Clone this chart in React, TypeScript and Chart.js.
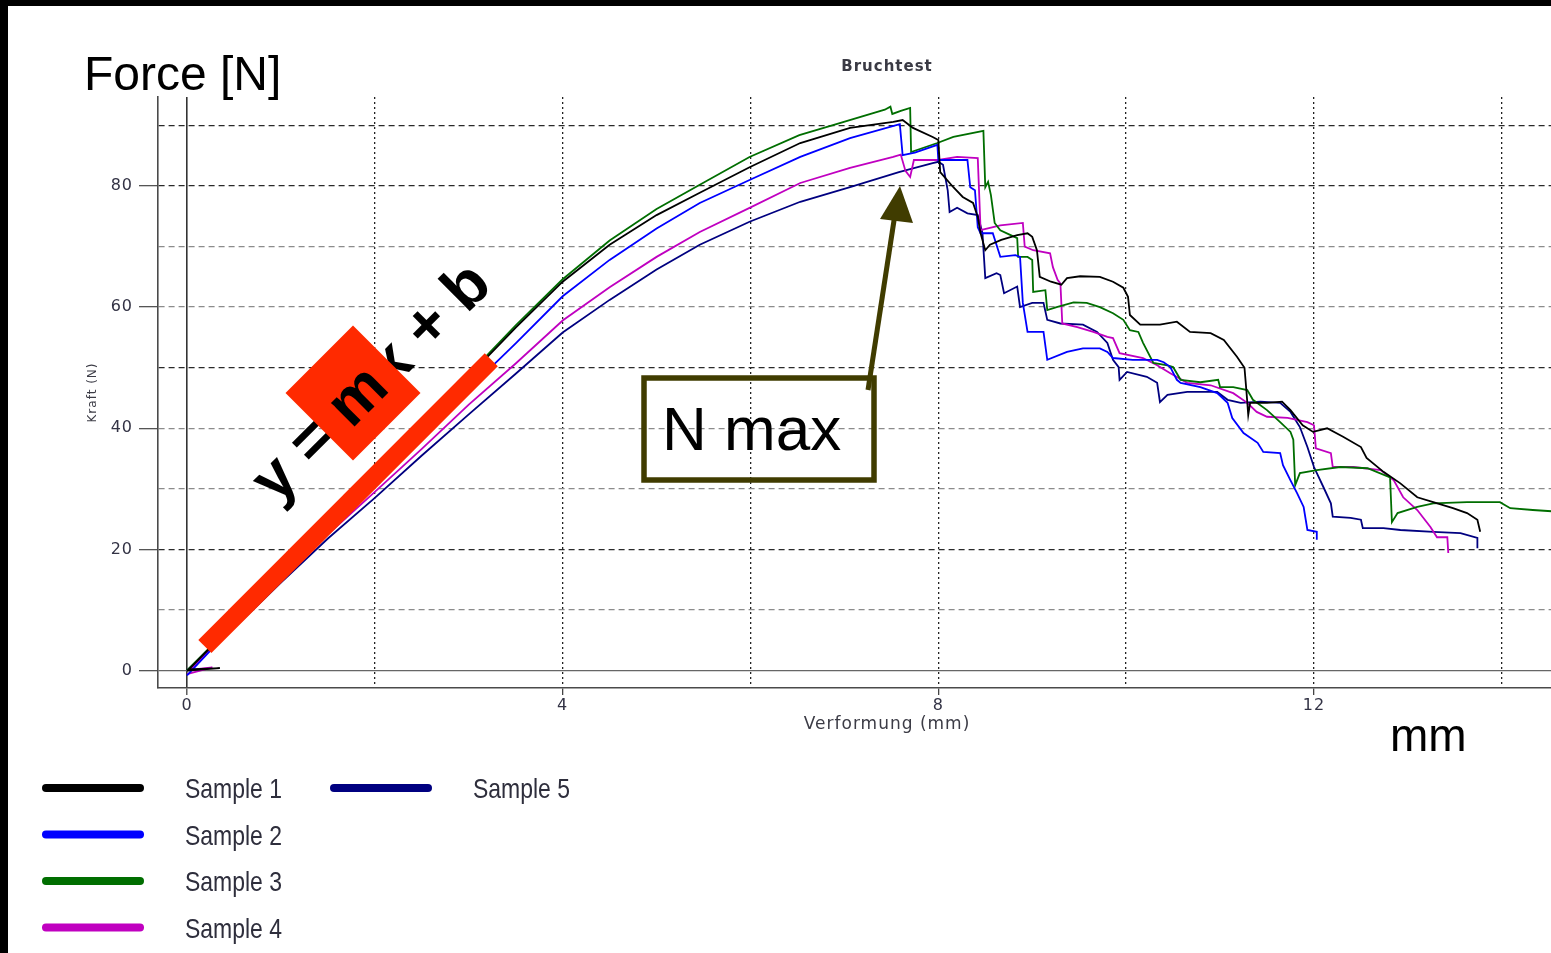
import { useEffect, useRef } from 'react';
import { Chart, registerables } from 'chart.js';

Chart.register(...registerables);

// ---------- data (x: Verformung in mm, y: Kraft in N) ----------
const sampleLabels = ['Sample 1', 'Sample 2', 'Sample 3', 'Sample 4', 'Sample 5'];

const xGridValues = [0, 2, 4, 6, 8, 10, 12, 14];
const yGridValues = [0, 10, 20, 30, 40, 50, 60, 70, 80, 90];
const xRange = [-0.309, 15.216];
const yRange = [-2.89, 94.7];

const sample1: [number, number][] = [
  [0, 0], [0.35, 0.4], [0.02, 0.2], [0.5, 7.8], [1, 16], [1.5, 24.1], [2, 32.2], [2.5, 40.4], [3, 48.6],
  [3.5, 56.6], [4, 64.2], [4.5, 70.3], [5, 75.2], [5.46, 78.9], [5.99, 83.1], [6.53, 87.1], [7.06, 89.6],
  [7.52, 90.6], [7.62, 90.9], [7.73, 89.6], [7.94, 88.1], [8.0, 87.6], [8.02, 82.3], [8.16, 79.8],
  [8.26, 78.2], [8.37, 77.2], [8.42, 74.9], [8.45, 72.2], [8.5, 69.4], [8.55, 70.3], [8.67, 71.1],
  [8.84, 71.9], [8.95, 72.2], [9.0, 71.6], [9.05, 69.4], [9.08, 65.0], [9.2, 64.2], [9.31, 63.7],
  [9.37, 64.8], [9.51, 65.1], [9.72, 65.0], [9.86, 64.2], [9.97, 63.2], [10.02, 61.7], [10.04, 58.7],
  [10.15, 57.1], [10.36, 57.1], [10.54, 57.6], [10.68, 55.9], [10.9, 55.7], [11.04, 54.6], [11.18, 51.8],
  [11.26, 50.0], [11.28, 46.3], [11.3, 42.2], [11.32, 44.2], [11.5, 44.2], [11.66, 44.4], [11.75, 43.0],
  [11.88, 40.5], [11.99, 39.4], [12.14, 40.0], [12.31, 38.6], [12.5, 36.9], [12.56, 35.1], [12.74, 32.8],
  [12.92, 30.9], [13.1, 28.6], [13.27, 27.8], [13.48, 26.8], [13.63, 26.0], [13.74, 24.9], [13.77, 22.9],
];

const sample2: [number, number][] = [
  [0, -0.8], [0.08, 0.5], [0.5, 7.4], [1, 15.2], [1.5, 23], [2, 30.8], [2.5, 38.5], [3, 46.5], [3.5, 54],
  [4, 61.8], [4.5, 67.8], [5, 73], [5.46, 77.2], [5.99, 81], [6.53, 84.8], [7.06, 87.9], [7.59, 90.2],
  [7.62, 85.1], [7.75, 85.5], [7.99, 86.8], [8.0, 84.3], [8.31, 84.3], [8.34, 79.8], [8.39, 79.3],
  [8.42, 73.2], [8.45, 72.2], [8.58, 72.2], [8.66, 68.3], [8.82, 68.6], [8.87, 68.3], [8.9, 60.7],
  [8.95, 55.9], [9.12, 55.9], [9.16, 51.3], [9.37, 52.6], [9.54, 53.2], [9.72, 53.2], [9.8, 52.6],
  [9.86, 51.6], [10.07, 51.3], [10.33, 51.3], [10.4, 50.9], [10.47, 50.1], [10.54, 48.0], [10.58, 47.5],
  [10.79, 46.8], [10.97, 45.8], [11.08, 44.2], [11.13, 41.7], [11.25, 39.2], [11.4, 37.6], [11.46, 36.1],
  [11.64, 35.9], [11.67, 33.9], [11.75, 31.4], [11.82, 29.3], [11.89, 27.0], [11.93, 23.2], [12.03, 22.9],
  [12.03, 21.6],
];

const sample3: [number, number][] = [
  [0, 0], [0.5, 7.8], [1, 16], [1.5, 24.2], [2, 32.4], [2.5, 40.6], [3, 48.9], [3.5, 57], [4, 64.6],
  [4.5, 71], [5, 76.2], [5.46, 80.2], [5.99, 84.8], [6.52, 88.4], [6.95, 90.4], [7.43, 92.6], [7.49, 93.1],
  [7.51, 91.9], [7.6, 92.4], [7.7, 92.9], [7.71, 85.6], [7.99, 87.1], [8.16, 88.1], [8.48, 89.1],
  [8.5, 79.8], [8.53, 80.7], [8.56, 78.5], [8.6, 73.9], [8.66, 72.7], [8.77, 71.9], [8.84, 71.4],
  [8.85, 68.3], [8.95, 68.3], [9.0, 67.8], [9.01, 62.5], [9.14, 62.8], [9.16, 59.5], [9.26, 60.0],
  [9.44, 60.8], [9.58, 60.7], [9.72, 60.0], [9.86, 59.0], [9.97, 57.9], [10.04, 56.2], [10.13, 55.9],
  [10.18, 54.1], [10.29, 50.8], [10.44, 50.4], [10.5, 50.1], [10.58, 48.0], [10.79, 47.6], [10.98, 48.0],
  [11.0, 46.8], [11.14, 46.8], [11.29, 46.3], [11.35, 44.7], [11.5, 43.0], [11.64, 41.0], [11.75, 39.4],
  [11.78, 38.1], [11.8, 30.6], [11.85, 32.6], [12.03, 33.1], [12.28, 33.6], [12.57, 33.4], [12.81, 31.9],
  [12.83, 24.5], [12.89, 26.0], [13.1, 27.0], [13.27, 27.6], [13.63, 27.8], [13.98, 27.8], [14.09, 26.8],
  [14.33, 26.5], [14.53, 26.3], [15.2, 26.2],
];

const sample4: [number, number][] = [
  [0, -0.6], [0.27, 0.5], [0.03, 0.1], [0.5, 7.2], [1, 14.8], [1.5, 22.5], [2, 29.5], [2.5, 36.6],
  [3, 43.9], [3.5, 50.7], [4, 57.8], [4.5, 63.3], [5, 68.3], [5.46, 72.4], [5.99, 76.4], [6.53, 80.5],
  [7.06, 83.0], [7.52, 84.8], [7.6, 85.2], [7.65, 82.5], [7.7, 81.5], [7.74, 84.3], [8.0, 84.3],
  [8.2, 84.8], [8.42, 84.6], [8.45, 72.7], [8.66, 73.5], [8.9, 73.9], [8.92, 70.0], [9.01, 69.4],
  [9.19, 68.9], [9.22, 66.6], [9.27, 64.5], [9.3, 63.9], [9.32, 57.3], [9.48, 56.7], [9.65, 55.9],
  [9.8, 55.1], [9.86, 54.9], [9.93, 52.4], [10.18, 51.6], [10.33, 50.4], [10.47, 49.1], [10.65, 47.5],
  [10.9, 47.1], [11.14, 45.8], [11.29, 44.2], [11.39, 42.7], [11.5, 41.9], [11.72, 41.7], [11.93, 41.0],
  [12.0, 40.5], [12.02, 36.7], [12.18, 35.9], [12.2, 33.6], [12.42, 33.6], [12.71, 33.1], [12.85, 31.4],
  [12.95, 28.6], [13.1, 26.5], [13.24, 23.7], [13.31, 22.0], [13.42, 22.0], [13.43, 19.4],
];

const sample5: [number, number][] = [
  [0, 0], [0.5, 7], [1, 14.5], [1.5, 21.8], [2, 28.5], [2.5, 35.5], [3, 42.3], [3.5, 49], [4, 55.8],
  [4.5, 61.2], [5, 66.2], [5.46, 70.3], [5.99, 74.1], [6.53, 77.4], [7.06, 79.8], [7.58, 82.3],
  [7.94, 83.8], [8.0, 84.0], [8.05, 83.5], [8.1, 79.3], [8.12, 75.7], [8.2, 76.4], [8.31, 75.5],
  [8.42, 75.2], [8.47, 72.2], [8.5, 64.8], [8.62, 65.6], [8.66, 65.3], [8.7, 62.3], [8.84, 63.4],
  [8.87, 60.0], [9.0, 60.7], [9.12, 60.7], [9.16, 57.9], [9.3, 57.3], [9.54, 57.1], [9.69, 55.9],
  [9.8, 54.1], [9.86, 51.3], [9.92, 50.1], [9.93, 48.0], [10.01, 49.3], [10.22, 48.5], [10.33, 47.5],
  [10.36, 44.3], [10.44, 45.5], [10.65, 46.0], [10.97, 46.0], [11.08, 44.7], [11.22, 44.2], [11.43, 44.4],
  [11.64, 44.2], [11.75, 42.7], [11.85, 40.2], [11.93, 36.9], [12.0, 33.6], [12.1, 30.3], [12.18, 27.6],
  [12.2, 25.4], [12.39, 25.2], [12.5, 24.9], [12.52, 23.5], [12.74, 23.5], [12.92, 23.2], [13.27, 22.9],
  [13.56, 22.7], [13.74, 21.9], [13.74, 20.2],
];

// the drawn linear-fit bar "y = mx + b" (data units)
const fitLine: [number, number][] = [[0.19, 3.96], [3.24, 51.3]];

// ---------- styles ----------
const sampleColors = ['#000000', '#0000ff', '#006e00', '#c000c0', '#000080'];
const RED = '#ff2a00';
const OLIVE = '#403c00';
const darkYGrid = [20, 50, 80, 90];
const UI_FONT = '"DejaVu Sans", Verdana, sans-serif';

const overlay = {
  id: 'overlay',
  beforeDraw(chart: any) {
    const c = chart.ctx;
    c.save();
    c.fillStyle = '#ffffff';
    c.fillRect(0, 0, chart.width, chart.height);
    c.fillStyle = '#000000';
    c.fillRect(0, 0, chart.width, 6);
    c.fillRect(0, 0, 8, chart.height);
    c.restore();
    c.letterSpacing = '1px';
  },
  afterDraw(chart: any) {
    const c = chart.ctx;
    c.letterSpacing = '0px';
    c.save();
    c.textAlign = 'left';
    c.textBaseline = 'alphabetic';
    c.fillStyle = '#000';
    c.font = '48px "Liberation Sans", Arial, sans-serif';
    c.fillText('Force [N]', 84, 89.5);
    c.font = '46px "Liberation Sans", Arial, sans-serif';
    c.fillText('mm', 1390, 751);

    // formula text
    const fFont = 'bold 63px "Liberation Sans", Arial, sans-serif';
    const ox = 276, oy = 505;
    c.save();
    c.translate(ox, oy);
    c.rotate(-Math.PI / 4);
    c.font = fFont;
    c.fillText('y = mx + b', 0, 0);
    const pre = c.measureText('y = ').width;
    c.restore();
    // red diamond
    c.save();
    c.translate(353, 393);
    c.rotate(Math.PI / 4);
    c.fillStyle = RED;
    c.fillRect(-47.75, -47.75, 95.5, 95.5);
    c.restore();
    // "m" on top of the diamond
    c.save();
    c.translate(ox, oy);
    c.rotate(-Math.PI / 4);
    c.font = fFont;
    c.fillStyle = '#000';
    c.fillText('m', pre, 0);
    c.restore();

    // N max box + arrow
    c.strokeStyle = OLIVE;
    c.lineWidth = 5.5;
    c.strokeRect(644, 378, 230, 102);
    c.font = '62px "Liberation Sans", Arial, sans-serif';
    c.fillStyle = '#000';
    c.fillText('N max', 662, 450);
    c.lineWidth = 5;
    c.beginPath();
    c.moveTo(868, 390);
    c.lineTo(895, 214);
    c.stroke();
    c.fillStyle = OLIVE;
    c.beginPath();
    c.moveTo(900, 186);
    c.lineTo(880, 219);
    c.lineTo(913, 223);
    c.closePath();
    c.fill();

    // legend (two columns, four rows)
    const items = chart.data.datasets.filter((d: any) => String(d.label).startsWith('Sample'));
    items.forEach((d: any, i: number) => {
      const col = Math.floor(i / 4);
      const row = i % 4;
      const lx = 43 + col * 288;
      const ly = 788 + row * 46.5;
      c.strokeStyle = d.borderColor;
      c.lineWidth = 8;
      c.lineCap = 'round';
      c.beginPath();
      c.moveTo(lx + 3, ly);
      c.lineTo(lx + 97, ly);
      c.stroke();
      c.save();
      c.translate(lx + 142, ly + 10);
      c.scale(0.82, 1);
      c.font = '28px "Liberation Sans", Arial, sans-serif';
      c.fillStyle = '#2e2e3c';
      c.fillText(d.label, 0, 0);
      c.restore();
    });
    c.restore();
  },
};

export default function App() {
  const ref = useRef<HTMLCanvasElement>(null);
  useEffect(() => {
    const canvas = ref.current;
    if (!canvas) return;
    const series = [sample1, sample2, sample3, sample4, sample5];
    const datasets: any[] = series.map((s, i) => ({
      label: sampleLabels[i],
      data: s.map(([x, y]) => ({ x, y })),
      borderColor: sampleColors[i],
      backgroundColor: sampleColors[i],
      borderWidth: 1.8,
      pointRadius: 0,
      tension: 0,
      fill: false,
    }));
    datasets.push({
      label: 'fit',
      data: fitLine.map(([x, y]) => ({ x, y })),
      borderColor: RED,
      borderWidth: 18.5,
      borderCapStyle: 'butt',
      pointRadius: 0,
      fill: false,
      order: -1,
    });
    const tickFont = { family: UI_FONT, size: 16 };
    const chart = new Chart(canvas, {
      type: 'line',
      data: { datasets },
      plugins: [overlay],
      options: {
        animation: false,
        responsive: false,
        devicePixelRatio: 1,
        layout: { padding: 0 },
        plugins: {
          legend: { display: false },
          tooltip: { enabled: false },
          title: {
            display: true,
            text: 'Bruchtest',
            fullSize: false,
            color: '#3a3a44',
            font: { family: UI_FONT, size: 15, weight: 'bold' },
            padding: { top: 58, bottom: 21 },
          },
        },
        scales: {
          x: {
            type: 'linear',
            min: xRange[0],
            max: xRange[1],
            afterFit: (s: any) => { s.height = 265; },
            afterBuildTicks: (s: any) => { s.ticks = xGridValues.map((v) => ({ value: v })); },
            ticks: {
              autoSkip: false,
              maxRotation: 0,
              padding: 1,
              color: '#333345',
              font: tickFont,
              callback: (v: any) => (Number(v) % 4 === 0 ? String(v) : ''),
            },
            grid: {
              color: (ctx: any) => (ctx.tick && ctx.tick.value === 0 ? '#333333' : '#222222'),
              lineWidth: (ctx: any) => (ctx.tick && ctx.tick.value === 0 ? 1.6 : 1.3),
              tickColor: (ctx: any) => (ctx.tick && ctx.tick.value % 4 === 0 ? '#444444' : 'rgba(0,0,0,0)'),
              tickLength: 7,
              tickWidth: 1.3,
              tickBorderDash: [],
            },
            border: {
              display: true,
              color: '#4a4a4a',
              width: 1.6,
              dash: (ctx: any) => (ctx.tick && ctx.tick.value !== 0 ? [2, 3] : []),
            },
            title: {
              display: true,
              text: 'Verformung (mm)',
              color: '#3c3c46',
              font: { family: UI_FONT, size: 17 },
              padding: { top: 0, bottom: 217.8 },
            },
          },
          y: {
            type: 'linear',
            min: yRange[0],
            max: yRange[1],
            afterFit: (s: any) => { s.width = 158; },
            afterBuildTicks: (s: any) => { s.ticks = yGridValues.map((v) => ({ value: v })); },
            ticks: {
              autoSkip: false,
              padding: 6,
              color: '#333345',
              font: tickFont,
              callback: (v: any) => (Number(v) % 20 === 0 ? String(v) : ''),
            },
            grid: {
              color: (ctx: any) => {
                const v = ctx.tick ? ctx.tick.value : -1;
                if (v === 0) return '#666666';
                return darkYGrid.includes(v) ? '#2a2a2a' : '#8c8c8c';
              },
              lineWidth: 1.3,
              tickColor: (ctx: any) => (ctx.tick && ctx.tick.value % 20 === 0 ? '#555555' : 'rgba(0,0,0,0)'),
              tickLength: 19,
              tickWidth: 1.3,
              tickBorderDash: [],
            },
            border: {
              display: true,
              color: '#4a4a4a',
              width: 1.6,
              dash: (ctx: any) => (ctx.tick && ctx.tick.value !== 0 ? [6, 4] : []),
            },
            title: {
              display: true,
              text: 'Kraft (N)',
              color: '#3c3c46',
              font: { family: UI_FONT, size: 12 },
              padding: { top: 86, bottom: 0 },
            },
          },
        },
      } as any,
    });
    return () => chart.destroy();
  }, []);

  return (
    <div
      style={{
        position: 'fixed',
        left: 0,
        top: 0,
        width: 1551,
        height: 953,
        overflow: 'hidden',
        background: '#ffffff',
      }}
    >
      <canvas ref={ref} width={1616} height={953} style={{ display: 'block' }} />
    </div>
  );
}
